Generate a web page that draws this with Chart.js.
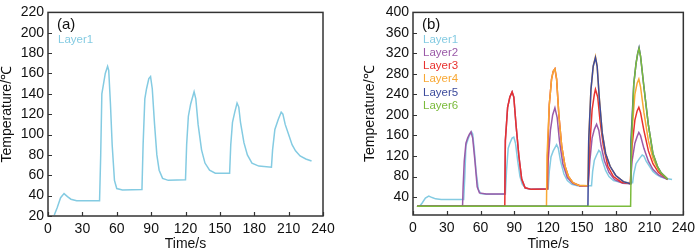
<!DOCTYPE html>
<html>
<head>
<meta charset="utf-8">
<script src="https://cdn.jsdelivr.net/npm/chart.js@4.4.1/dist/chart.umd.min.js"></script>
<style>
  html, body { margin: 0; padding: 0; background: #fff; }
  #wrap { display: flex; width: 700px; height: 251px; }
  canvas { display: block; }
</style>
</head>
<body>
<div id="wrap">
  <canvas id="left" width="350" height="251"></canvas>
  <canvas id="right" width="350" height="251"></canvas>
</div>
<script>
// values (time in s, temperature in °C)
const layerNames = ["Layer1", "Layer2", "Layer3", "Layer4", "Layer5", "Layer6"];
const layerColors = ["#84cbe2", "#9a5aa8", "#e8322f", "#f8a834", "#3d4b9c", "#7bbb3c"];

const layer1Time = [5.5, 8, 11, 14, 17, 20, 25, 45, 46, 47, 48.5, 50, 52, 53, 54.5, 56, 58, 60, 65, 82, 83, 84.5, 86, 88, 89.5, 91, 93, 95, 97, 100, 105, 120, 121, 122.5, 124.5, 127.5, 129, 131, 134, 137, 141, 146, 158.5, 159.5, 161, 163, 165, 166.5, 168, 171, 174, 178, 184, 195, 196, 198, 201, 203.5, 205, 207, 210, 213, 216, 220, 225, 230];
const layer1Temp = [21, 28, 38, 42, 39, 36.5, 35, 35, 80, 140, 150, 160, 167, 163, 130, 90, 55, 47, 45.5, 46, 90, 135, 145, 155, 157, 145, 110, 80, 65, 57, 55, 55.5, 90, 118, 130, 142, 135, 110, 85, 72, 65, 62, 62, 90, 112, 122, 131, 127, 112, 92, 80, 72, 69, 68, 85, 105, 115, 122, 120, 110, 100, 90, 84, 79, 76, 74];

const layer2Time = [3.5, 44, 44.5, 45.5, 47, 48.5, 50, 51.5, 53, 55, 57, 59, 65, 81.5, 82, 84, 86, 88, 89.5, 91.5, 94, 96.5, 99.5, 105, 119, 120, 122, 124, 126, 128, 130, 133, 137, 142, 148, 155.5, 157, 159, 161, 163, 165, 167, 170, 174, 179, 186, 193, 194.5, 197, 199, 200.5, 202, 205, 209, 213, 218, 226];
const layer2Temp = [22, 22, 60, 110, 145, 155, 162, 167, 155, 110, 60, 48, 46, 46, 150, 215, 235, 245, 235, 180, 120, 75, 58, 55, 56, 110, 170, 200, 214, 195, 150, 105, 78, 66, 62, 62, 110, 155, 172, 182, 170, 140, 110, 88, 74, 67, 66, 110, 145, 158, 166, 160, 135, 110, 94, 83, 74];

const layer3Time = [3.5, 81.5, 82, 84, 86, 88, 89.5, 91.5, 94, 96.5, 99.5, 105, 119, 119.5, 121, 123, 124.5, 126, 127.5, 129.5, 132, 135, 138, 142, 148, 155.5, 157, 159, 161, 162, 164, 166, 169, 173, 178, 185, 193, 194.5, 197, 199, 200.5, 202, 205, 209, 213, 218, 226];
const layer3Temp = [22, 22, 150, 215, 235, 245, 235, 180, 120, 75, 58, 55, 55.5, 120, 220, 270, 285, 290, 270, 200, 140, 100, 80, 68, 62, 62, 140, 210, 240, 250, 235, 190, 140, 100, 80, 69, 66, 140, 190, 208, 215, 205, 170, 130, 105, 88, 75];

const layer4Time = [3.5, 118.5, 119, 121, 123, 124.5, 126, 127.5, 129.5, 132, 135, 138, 142, 147, 155.3, 156, 158, 160, 162, 163.5, 165.5, 168, 171, 175, 180, 186.8, 193, 194.5, 197, 199, 200.5, 202, 205, 209, 213, 218, 226];
const layer4Temp = [22, 22, 120, 220, 270, 285, 290, 270, 200, 140, 100, 80, 68, 63, 62, 150, 250, 295, 314, 295, 230, 165, 125, 100, 82, 70, 66, 170, 240, 262, 270, 255, 205, 150, 115, 92, 75];

const layer5Time = [3.5, 155.3, 156, 158, 160, 162, 163.5, 165.5, 168, 171, 175, 180, 186.8, 193, 193.5, 196, 198, 199.5, 200.7, 202, 205, 209, 213, 217, 220, 226];
const layer5Temp = [22, 22, 150, 250, 295, 312, 295, 230, 165, 125, 100, 82, 70, 66, 150, 260, 300, 320, 331, 315, 255, 180, 125, 100, 88, 75];

const layer6Time = [3.5, 193.2, 194, 196, 198, 199.5, 200.7, 202, 205, 209, 213, 217, 220, 226];
const layer6Temp = [22, 22, 150, 260, 300, 320, 330, 315, 255, 180, 125, 100, 88, 75];

const timeTicks = [0, 30, 60, 90, 120, 150, 180, 210, 240];
const leftTempTicks = [20, 40, 60, 80, 100, 120, 140, 160, 180, 200, 220];
const rightTempTicks = [40, 80, 120, 160, 200, 240, 280, 320, 360, 400];

const layerTimes = [layer1Time, layer2Time, layer3Time, layer4Time, layer5Time, layer6Time];
const layerTemps = [layer1Temp, layer2Temp, layer3Temp, layer4Temp, layer5Temp, layer6Temp];

const FONT = "'Liberation Sans', Arial, sans-serif";

function points(times, temps) {
  return times.map((t, i) => ({ x: t, y: temps[i] }));
}

// box, inward ticks, panel letter and coloured text legend
const framePlugin = {
  id: "frame",
  afterDraw(chart, args, opts) {
    const { ctx, chartArea: a, scales } = chart;
    ctx.save();
    ctx.strokeStyle = "#333";
    ctx.lineWidth = 1.2;
    ctx.beginPath();
    scales.x.ticks.forEach((t) => {
      const px = Math.round(scales.x.getPixelForValue(t.value)) + 0.5;
      ctx.moveTo(px, a.bottom);
      ctx.lineTo(px, a.bottom - 4);
    });
    scales.y.ticks.forEach((t) => {
      const py = Math.round(scales.y.getPixelForValue(t.value)) + 0.5;
      ctx.moveTo(a.left, py);
      ctx.lineTo(a.left + 4, py);
    });
    ctx.stroke();
    ctx.lineWidth = 1.5;
    ctx.strokeRect(a.left, a.top, a.right - a.left, a.bottom - a.top);

    ctx.textBaseline = "middle";
    ctx.textAlign = "left";
    ctx.fillStyle = "#111";
    ctx.font = "15px " + FONT;
    ctx.fillText(opts.panel, a.left + 9, a.top + 12);
    ctx.font = "11.5px " + FONT;
    chart.data.datasets.forEach((ds, i) => {
      ctx.fillStyle = ds.borderColor;
      ctx.fillText(ds.label, a.left + 10, a.top + 27 + i * 13.3);
    });
    ctx.restore();
  },
};

function makeChart(canvas, count, panel, yMin, yMax, yTicks, yWidth, padLeft, padRight, xHeight) {
  const datasets = [];
  for (let i = 0; i < count; i++) {
    datasets.push({
      label: layerNames[i],
      data: points(layerTimes[i], layerTemps[i]),
      borderColor: layerColors[i],
      borderWidth: 1.5,
      pointRadius: 0,
      tension: 0,
      order: count - i,
    });
  }
  return new Chart(canvas, {
    type: "line",
    data: { datasets },
    plugins: [framePlugin],
    options: {
      responsive: false,
      animation: false,
      devicePixelRatio: 1,
      layout: { padding: { top: 7, right: padRight, left: padLeft, bottom: 0 } },
      plugins: {
        legend: { display: false },
        tooltip: { enabled: false },
        frame: { panel },
      },
      scales: {
        x: {
          type: "linear",
          min: 0,
          max: 240,
          afterBuildTicks: (s) => { s.ticks = timeTicks.map((v) => ({ value: v })); },
          afterFit: (s) => { s.height = xHeight; },
          grid: { display: false, drawTicks: false },
          border: { display: false },
          ticks: { color: "#111", font: { size: 14, family: FONT }, padding: 5, maxRotation: 0, autoSkip: false },
          title: { display: true, text: "Time/s", color: "#111", font: { size: 14, family: FONT, lineHeight: 1 }, padding: 0 },
        },
        y: {
          min: yMin,
          max: yMax,
          afterBuildTicks: (s) => { s.ticks = yTicks.map((v) => ({ value: v })); },
          afterFit: (s) => { s.width = yWidth; },
          grid: { display: false, drawTicks: false },
          border: { display: false },
          ticks: { color: "#111", font: { size: 14, family: FONT }, padding: 4, autoSkip: false },
          title: { display: true, text: "Temperature/℃", color: "#111", font: { size: 14, family: FONT, lineHeight: 1 }, padding: 0 },
        },
      },
    },
  });
}

makeChart(document.getElementById("left"), 1, "(a)", 20, 220, leftTempTicks, 48, 0, 27, 35);
makeChart(document.getElementById("right"), 6, "(b)", 5, 400, rightTempTicks, 50, 13, 12, 36);
</script>
</body>
</html>
